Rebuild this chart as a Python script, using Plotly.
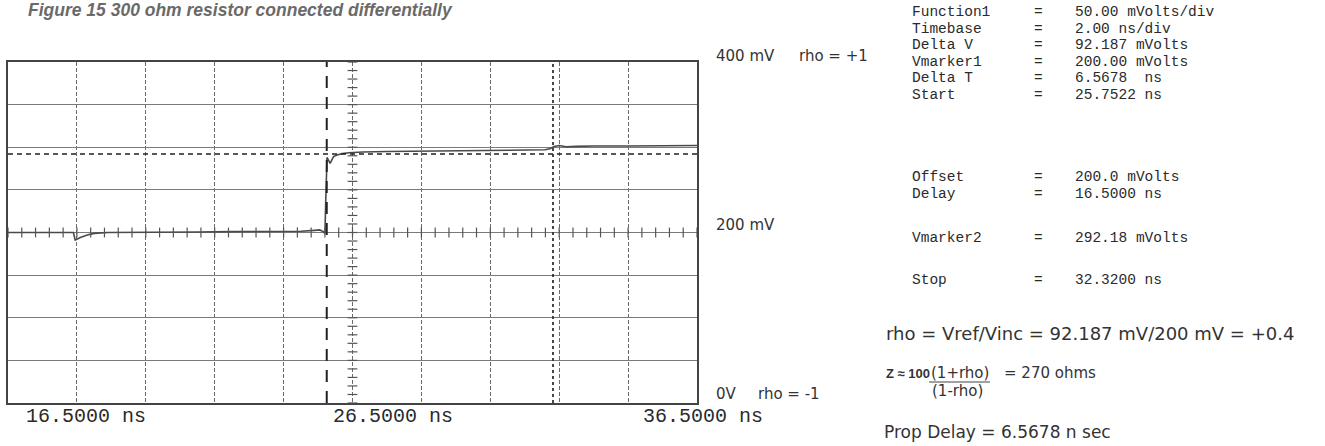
import numpy as np
import plotly.graph_objects as go

# ---------------- data ----------------
t_ns = [16.5, 17.0, 17.6, 18.2, 18.4, 18.45, 18.6, 18.8, 19.0, 19.4, 20.0, 21.0, 22.0,
        23.0, 24.0, 25.0, 25.4, 25.55, 25.65, 25.7, 25.72, 25.76, 25.85, 25.95, 26.05,
        26.2, 26.4, 26.8, 27.5, 28.5, 29.5, 30.5, 31.5, 32.1, 32.25, 32.35, 32.5, 32.7,
        33.0, 33.5, 34.5, 35.5, 36.5]
v_mv = [200, 200, 200.5, 200, 200, 191, 194, 197, 199, 200, 200, 200.5, 200.5,
        201, 201, 201.5, 202.5, 203, 201, 199, 232, 288, 281, 289, 291,
        292.5, 293.5, 294.5, 295, 295.5, 296, 296, 296.5, 297, 298.5, 301, 302, 300.5,
        301, 301.5, 301.5, 302, 302]

x_start, x_end = 16.5, 36.5          # ns (Delay .. Delay + 10 div)
y_min, y_max = 0, 400                # mV
ns_per_div = 2.0
mv_per_div = 50.0
center_t = 26.5
center_v = 200.0

start_marker = 25.7522   # ns
stop_marker = 32.32      # ns
vmarker1 = 200.00        # mV
vmarker2 = 292.18        # mV

x_tick_labels = ["16.5000 ns", "26.5000 ns", "36.5000 ns"]

readout_rows_top = [
    ("Function1", "50.00 mVolts/div"),
    ("Timebase", "2.00 ns/div"),
    ("Delta V", "92.187 mVolts"),
    ("Vmarker1", "200.00 mVolts"),
    ("Delta T", "6.5678  ns"),
    ("Start", "25.7522 ns"),
]
readout_rows_mid = [
    ("Offset", "200.0 mVolts"),
    ("Delay", "16.5000 ns"),
]
readout_vm2 = ("Vmarker2", "292.18 mVolts")
readout_stop = ("Stop", "32.3200 ns")

# ---------------- figure ----------------
L, R, T, B = 8, 697, 62, 403
W, H = 1325, 446

def px(x):
    return (x - L) / (R - L)

def py(y):
    return (B - y) / (B - T)

MONO = "Courier New, Liberation Mono, monospace"
SANS = "DejaVu Sans, Verdana, sans-serif"
INK = "#2a2a2a"

fig = go.Figure()

# signal trace
fig.add_trace(go.Scatter(x=t_ns, y=v_mv, mode="lines",
                         line=dict(color="#4a4a4a", width=1.6), hoverinfo="skip",
                         showlegend=False))

# minor ticks on the centre graticule lines
hx = np.arange(x_start, x_end + 1e-9, ns_per_div / 5)
fig.add_trace(go.Scatter(x=hx, y=[center_v] * len(hx), mode="markers",
                         marker=dict(symbol="line-ns", size=7,
                                     line=dict(color="#555", width=1.2)),
                         hoverinfo="skip", showlegend=False))
vy = np.arange(y_min, y_max + 1e-9, mv_per_div / 5)
fig.add_trace(go.Scatter(x=[center_t] * len(vy), y=vy, mode="markers",
                         marker=dict(symbol="line-ew", size=7,
                                     line=dict(color="#555", width=1.2)),
                         hoverinfo="skip", showlegend=False))

shapes = [
    # Vmarker2 horizontal dashed
    dict(type="line", xref="x", yref="y", x0=x_start, x1=x_end, y0=vmarker2, y1=vmarker2,
         line=dict(color="#222", width=1.5, dash="5px,4px")),
    # Start marker (long dashes)
    dict(type="line", xref="x", yref="y", x0=start_marker, x1=start_marker, y0=y_min, y1=y_max,
         line=dict(color="#222", width=2, dash="12px,9px")),
    # Stop marker (dotted)
    dict(type="line", xref="x", yref="y", x0=stop_marker, x1=stop_marker, y0=y_min, y1=y_max,
         line=dict(color="#333", width=1.8, dash="3px,3px")),
    # fraction bar for Z formula
    dict(type="line", xref="paper", yref="paper", x0=px(929), x1=px(990),
         y0=py(382), y1=py(382), line=dict(color="#444", width=1.2)),
]

ann = []

def add_text(x, y, text, font, size, color=INK, italic=False, bold=False):
    ann.append(dict(xref="paper", yref="paper", x=px(x), y=py(y), text=text,
                    showarrow=False, xanchor="left", yanchor="middle",
                    font=dict(family=font, size=size, color=color,
                              style="italic" if italic else "normal",
                              weight="bold" if bold else "normal")))

# title
add_text(26, 10, "Figure 15 300 ohm resistor connected differentially",
         "Liberation Sans, Arial, sans-serif", 17.5, color="#6a6a6a", italic=True, bold=True)

# x-axis labels
add_text(24, 416, x_tick_labels[0], MONO, 20)
add_text(331, 416, x_tick_labels[1], MONO, 20)
add_text(641, 416, x_tick_labels[2], MONO, 20)

# right-of-graticule scale labels
add_text(714, 56, "400 mV", SANS, 15, color="#333")
add_text(797, 56, "rho = +1", SANS, 15, color="#333")
add_text(714, 225, "200 mV", SANS, 15, color="#333")
add_text(714, 394, "0V", SANS, 15, color="#333")
add_text(756, 394, "rho = -1", SANS, 15, color="#333")

# readout block
RS = 14.5
def add_row(y, label, value):
    add_text(910, y, label, MONO, RS)
    add_text(1032, y, "=", MONO, RS)
    add_text(1073, y, value, MONO, RS)

for i, (lab, val) in enumerate(readout_rows_top):
    add_row(12 + i * 16.5, lab, val)
for i, (lab, val) in enumerate(readout_rows_mid):
    add_row(177 + i * 17, lab, val)
add_row(238, *readout_vm2)
add_row(280, *readout_stop)

# formulas
add_text(884, 333, "rho = Vref/Vinc = 92.187 mV/200 mV = +0.4", SANS, 18, color="#333")
add_text(884, 373, "Z ≈ 100", "Liberation Sans, Arial, sans-serif", 13, color="#333", bold=True)
add_text(929, 373, "(1+rho)", SANS, 15, color="#333")
add_text(1002, 373, "= 270 ohms", SANS, 15, color="#333")
add_text(930, 391, "(1-rho)", SANS, 15, color="#333")
add_text(882, 432, "Prop Delay = 6.5678 n sec", SANS, 17, color="#333")

fig.update_layout(
    width=W, height=H,
    margin=dict(l=L, r=W - R, t=T, b=H - B, pad=0),
    paper_bgcolor="white", plot_bgcolor="white",
    shapes=shapes, annotations=ann, showlegend=False,
    xaxis=dict(range=[x_start, x_end], dtick=ns_per_div, tick0=x_start,
               showgrid=True, gridcolor="#6a6a6a", gridwidth=1, griddash="4px,2px",
               showticklabels=False, ticks="", zeroline=False,
               showline=True, linecolor="#444", linewidth=1.6, mirror=True),
    yaxis=dict(range=[y_min, y_max], dtick=mv_per_div, tick0=y_min,
               showgrid=True, gridcolor="#7a7a7a", gridwidth=1,
               showticklabels=False, ticks="", zeroline=False,
               showline=True, linecolor="#444", linewidth=1.6, mirror=True),
)

fig.write_html("out.html", config={"displayModeBar": False},
               post_script="document.body.style.margin='0px';")
